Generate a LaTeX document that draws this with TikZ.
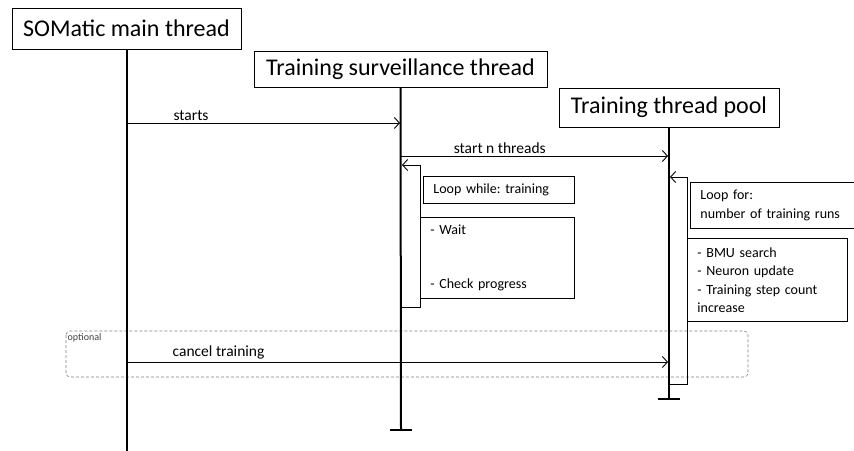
\documentclass[tikz,border=0pt]{standalone}
\usepackage{fontspec}
\setmainfont{Carlito}
\frenchspacing
\usetikzlibrary{arrows.meta}
\begin{document}
\begin{tikzpicture}[x=1pt,y=-1pt,
  header/.style={draw, line width=0.9pt, font=\fontsize{24}{28}\selectfont, inner sep=0pt},
  lifeline/.style={line width=2pt},
  endbar/.style={line width=2pt},
  msg/.style={line width=0.9pt, -{Straight Barb[length=5pt,width=11pt,line width=0.9pt]}},
  lbl/.style={font=\fontsize{15.5}{18}\selectfont, inner sep=2pt},
  notebox/.style={draw, line width=0.9pt, anchor=north west, align=left,
    inner xsep=10pt, inner ysep=0pt, font=\fontsize{14}{18.5}\selectfont},
  optframe/.style={draw=gray, densely dashed, rounded corners=4pt, line width=0.6pt},
]
\clip (0,0) rectangle (854,450);

% participants
\node[header, minimum width=229pt, minimum height=41pt] (main) at (126.5,28.5) {SOMatic main thread};
\node[header, minimum width=293pt, minimum height=36pt] (surv) at (400.5,69.5) {Training surveillance thread};
\node[header, minimum width=220pt, minimum height=39pt] (pool) at (669,107.5) {Training thread pool};

% lifeline ends
\coordinate (mainEnd) at (126.5,455);
\coordinate (survEnd) at (401,430);
\coordinate (poolEnd) at (669,399);

% optional fragment
\draw[optframe] (66,331) rectangle (748,377);
\node[anchor=north west, inner sep=1pt, font=\fontsize{10}{12}\selectfont, text=black!75] (optlbl) at (66.5,332) {optional};

% lifelines
\draw[lifeline] (main.south) -- (mainEnd);
\draw[lifeline] (surv.south) -- (survEnd);
\draw[lifeline] (pool.south) -- (poolEnd);
\draw[endbar] (survEnd) ++(-11,0) -- ++(22,0);
\draw[endbar] (poolEnd) ++(-11,0) -- ++(22,0);

% message anchors on the lifelines
\coordinate (mStart) at (126.5,123);
\coordinate (sStart) at (400,123);
\coordinate (sSpawn) at (401,156);
\coordinate (pSpawn) at (668,156);
\coordinate (mCancel) at (126.5,362);
\coordinate (pCancel) at (668,362);

\draw[msg] (mStart) -- node[lbl, pos=0.236, above] (lStarts) {starts} (sStart);
\draw[msg] (sSpawn) -- node[lbl, pos=0.37, above] (lSpawn) {start n threads} (pSpawn);
\draw[msg] (mCancel) -- node[lbl, pos=0.17, above] (lCancel) {cancel training} (pCancel);

% surveillance loop activation
\coordinate (sLoopBot) at (401,307);
\coordinate (sLoopBR) at (420,307);
\coordinate (sLoopTR) at (420,165);
\coordinate (sLoopTop) at (402,165);
\draw[msg] (sLoopBot) -- (sLoopBR) -- (sLoopTR) -- (sLoopTop);

\node[notebox, minimum width=151pt, minimum height=27pt, text width=131pt] (sCond) at (423,176) {Loop while: training};
\node[notebox, minimum width=154pt, minimum height=81pt, text width=134pt] (sBody) at (420,217) {- Wait\\[36pt]- Check progress};

% pool loop activation
\coordinate (pLoopBot) at (669,384);
\coordinate (pLoopBR) at (687,384);
\coordinate (pLoopTR) at (687,177);
\coordinate (pLoopTop) at (670,177);
\draw[msg] (pLoopBot) -- (pLoopBR) -- (pLoopTR) -- (pLoopTop);

\node[notebox, minimum width=175pt, minimum height=46pt, text width=155pt] (pCond) at (690,182) {Loop for:\\number of training runs};
\node[notebox, minimum width=155pt, minimum height=83pt, text width=140pt] (pBody) at (687,238) {- BMU search\\- Neuron update\\- Training step count\\increase};
\end{tikzpicture}
\end{document}
